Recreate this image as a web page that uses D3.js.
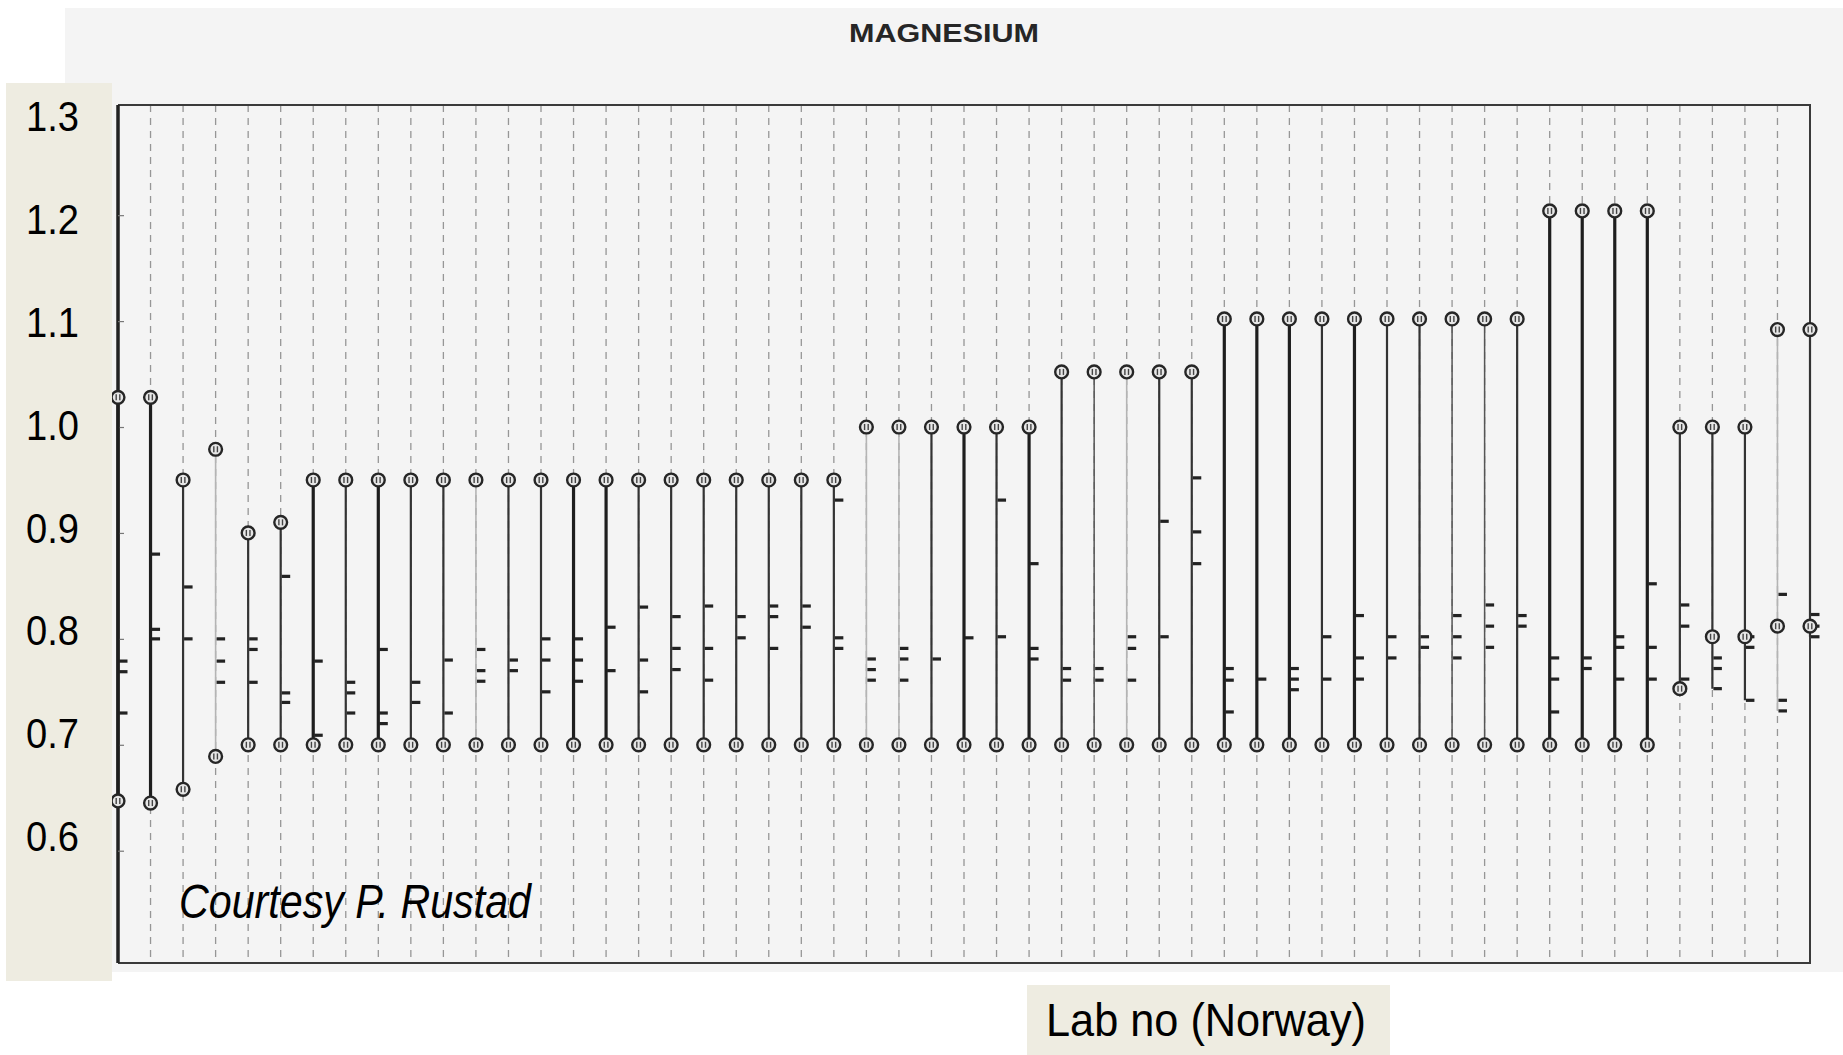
<!DOCTYPE html>
<html><head><meta charset="utf-8">
<script src="https://cdn.jsdelivr.net/npm/d3@7"></script>
<style>html,body{margin:0;padding:0;background:#fff;overflow:hidden}</style>
</head><body><svg id="c" width="1843" height="1055"></svg>
<script>
// ---------- data ----------
const chartTitle = "MAGNESIUM";
const xTitle = "Lab no (Norway)";
const credit = "Courtesy P. Rustad";
const yTickLabels = [0.6, 0.7, 0.8, 0.9, 1.0, 1.1, 1.2, 1.3];
const labs = [1,2,3,4,5,6,7,8,9,10,11,12,13,14,15,16,17,18,19,20,21,22,23,24,25,26,27,
  28,29,30,31,32,33,34,35,36,37,38,39,40,41,42,43,44,45,46,47,48,49,50,51,52,53];
// upper reference limit used by each lab
const upperLimit = [1.028,1.028,0.95,0.979,0.90,0.91,
  0.95,0.95,0.95,0.95,0.95,0.95,0.95,0.95,0.95,0.95,0.95,0.95,0.95,0.95,0.95,0.95,0.95,
  1.0,1.0,1.0,1.0,1.0,1.0,
  1.052,1.052,1.052,1.052,1.052,
  1.102,1.102,1.102,1.102,1.102,1.102,1.102,1.102,1.102,1.102,
  1.204,1.204,1.204,1.204,
  1.0,1.0,1.0,
  1.092,1.092];
// lower reference limit used by each lab
const lowerLimit = [0.647,0.645,0.658,0.689,
  0.70,0.70,0.70,0.70,0.70,0.70,0.70,0.70,0.70,0.70,0.70,0.70,0.70,0.70,0.70,0.70,0.70,0.70,
  0.70,0.70,0.70,0.70,0.70,0.70,0.70,0.70,0.70,0.70,0.70,0.70,0.70,0.70,0.70,0.70,0.70,0.70,
  0.70,0.70,0.70,0.70,0.70,0.70,0.70,0.70,
  0.753,0.802,0.802,0.812,0.812];
// individual control results reported by each lab
const results = [
  [0.779,0.769,0.730],[0.880,0.809,0.800],[0.849,0.800],[0.800,0.779,0.759],
  [0.800,0.790,0.759],[0.859,0.749,0.740],[0.779,0.709],[0.759,0.749,0.730],
  [0.790,0.730,0.720],[0.759,0.740],[0.780,0.730],[0.790,0.770,0.760],
  [0.780,0.770],[0.800,0.780,0.750],[0.800,0.780,0.760],[0.811,0.770],
  [0.830,0.780,0.750],[0.821,0.791,0.771],[0.831,0.791,0.761],[0.821,0.801],
  [0.831,0.821,0.791],[0.831,0.811],[0.931,0.801,0.791],[0.781,0.771,0.761],
  [0.791,0.781,0.761],[0.781],[0.801],[0.931,0.802],
  [0.871,0.791,0.781],[0.772,0.761],[0.772,0.761],[0.802,0.791,0.761],
  [0.911,0.802],[0.952,0.901,0.871],[0.772,0.761,0.731],[0.762],
  [0.772,0.762,0.752],[0.802,0.762],[0.822,0.782,0.762],[0.802,0.782],
  [0.802,0.792],[0.822,0.802,0.782],[0.832,0.812,0.792],[0.822,0.812],
  [0.782,0.762,0.731],[0.782,0.772],[0.802,0.792,0.762],[0.852,0.792,0.762],
  [0.832,0.812,0.762],[0.782,0.772,0.753],[0.802,0.792,0.742],[0.842,0.742,0.732],
  [0.823,0.812,0.802]
];

// ---------- styling (not data) ----------
const thickLabs = new Set([1,2,7,9,15,16,27,29,35,36,37,39,45,46,47,48]);
const lightLabs = new Set([4,12,24,25,32,52]);
const thinLabs  = new Set([42,43,31]);
const FONT = "'Liberation Sans Narrow','Liberation Sans',Arial,sans-serif";

const svg = d3.select("#c");
svg.append("rect").attr("width",1843).attr("height",1055).attr("fill","#fff");

// scanned plot scales
const x = d3.scalePoint().domain(labs).range([118, 1810]);
const y = d3.scaleLinear().domain([0.494, 1.304]).range([963, 105]);
// overlay label scale
const yLab = d3.scaleLinear().domain([0.6, 1.3]).range([837, 117.5]);

// scan paper
svg.append("rect").attr("x",65).attr("y",8).attr("width",1778).attr("height",964).attr("fill","#f4f4f4");

const [yBot, yTop] = [y(0.494), y(1.304)];

// dashed verticals
svg.append("g").selectAll("line").data(labs).join("line")
  .attr("x1", d => x(d)).attr("x2", d => x(d))
  .attr("y1", yTop).attr("y2", yBot)
  .attr("stroke", "#969696").attr("stroke-width", 1.3)
  .attr("stroke-dasharray", "7,6");

// frame
const x0 = x(labs[0]), x1 = x(labs[labs.length-1]);
svg.append("path")
  .attr("d", `M${x0},${yTop}H${x1}V${yBot}H${x0}`)
  .attr("fill","none").attr("stroke","#3a3a3a").attr("stroke-width",2);
svg.append("line").attr("x1",x0).attr("x2",x0).attr("y1",yTop).attr("y2",yBot)
  .attr("stroke","#222").attr("stroke-width",3.5);

// scan's own small axis ticks
const scanAxis = svg.append("g").attr("transform",`translate(${x0},0)`)
  .call(d3.axisRight(y).tickValues([0.6,0.7,0.8,0.9,1.0,1.1,1.2]).tickSize(6).tickFormat(""));
scanAxis.select(".domain").remove();
scanAxis.selectAll("line").attr("stroke","#777").attr("stroke-width",1.2);

// range lines
const rows = labs.map((lab, i) => ({
  lab, up: upperLimit[i], lo: lowerLimit[i], res: results[i],
  bottom: Math.min(lowerLimit[i], d3.min(results[i]))
}));
svg.append("g").selectAll("line").data(rows).join("line")
  .attr("x1", d => x(d.lab)).attr("x2", d => x(d.lab))
  .attr("y1", d => y(d.up)).attr("y2", d => y(d.bottom))
  .attr("stroke", d => lightLabs.has(d.lab) ? "#b4b4b4" : thinLabs.has(d.lab) ? "#555" : thickLabs.has(d.lab) ? "#1e1e1e" : "#333")
  .attr("stroke-width", d => lightLabs.has(d.lab) ? 1.6 : thinLabs.has(d.lab) ? 1.5 : thickLabs.has(d.lab) ? 3.2 : 2.2);

// result ticks
const tickData = rows.flatMap(r => r.res.map(v => ({lab: r.lab, v})));
svg.append("g").selectAll("rect").data(tickData).join("rect")
  .attr("x", d => x(d.lab) + 1).attr("y", d => y(d.v) - 1.6)
  .attr("width", 8.5).attr("height", 3.2).attr("fill", "#222");

// limit markers
const markers = rows.flatMap(r => [{lab:r.lab, v:r.up},{lab:r.lab, v:r.lo}]);
const mk = svg.append("g").selectAll("g").data(markers).join("g")
  .attr("transform", d => `translate(${x(d.lab)},${y(d.v)})`);
mk.append("circle").attr("r",6.4).attr("fill","#e6e6e6").attr("stroke","#262626").attr("stroke-width",2.4);
mk.append("line").attr("x1",-1.8).attr("x2",-1.8).attr("y1",-3).attr("y2",3).attr("stroke","#444").attr("stroke-width",1.4);
mk.append("line").attr("x1",1.8).attr("x2",1.8).attr("y1",-3).attr("y2",3).attr("stroke","#444").attr("stroke-width",1.4);

// title of scan
svg.append("text").attr("x",944).attr("y",42).attr("text-anchor","middle")
  .attr("font-family","'Liberation Sans',Arial,sans-serif").attr("font-weight","bold")
  .attr("font-size",26).attr("fill","#262626")
  .attr("textLength",190).attr("lengthAdjust","spacingAndGlyphs").text(chartTitle);

// credit
svg.append("text").attr("x",179).attr("y",918)
  .attr("font-family",FONT).attr("font-style","italic").attr("font-size",48).attr("fill","#000")
  .attr("textLength",352).attr("lengthAdjust","spacingAndGlyphs").text(credit);

// overlay y label box + axis
svg.append("rect").attr("x",6).attr("y",83).attr("width",106).attr("height",898).attr("fill","#EEECE1");
const yAx = svg.append("g").attr("transform","translate(79,0)")
  .call(d3.axisLeft(yLab).tickValues(yTickLabels).tickFormat(d3.format(".1f")).tickSize(0).tickPadding(0));
yAx.select(".domain").remove();
yAx.selectAll("text").attr("font-family",FONT).attr("font-size",42).attr("fill","#000")
  .attr("textLength",53).attr("lengthAdjust","spacingAndGlyphs");

// x title box
svg.append("rect").attr("x",1027).attr("y",985).attr("width",363).attr("height",70).attr("fill","#EEECE1");
svg.append("text").attr("x",1206).attr("y",1036).attr("text-anchor","middle")
  .attr("font-family",FONT).attr("font-size",46).attr("fill","#000")
  .attr("textLength",320).attr("lengthAdjust","spacingAndGlyphs").text(xTitle);
</script></body></html>
